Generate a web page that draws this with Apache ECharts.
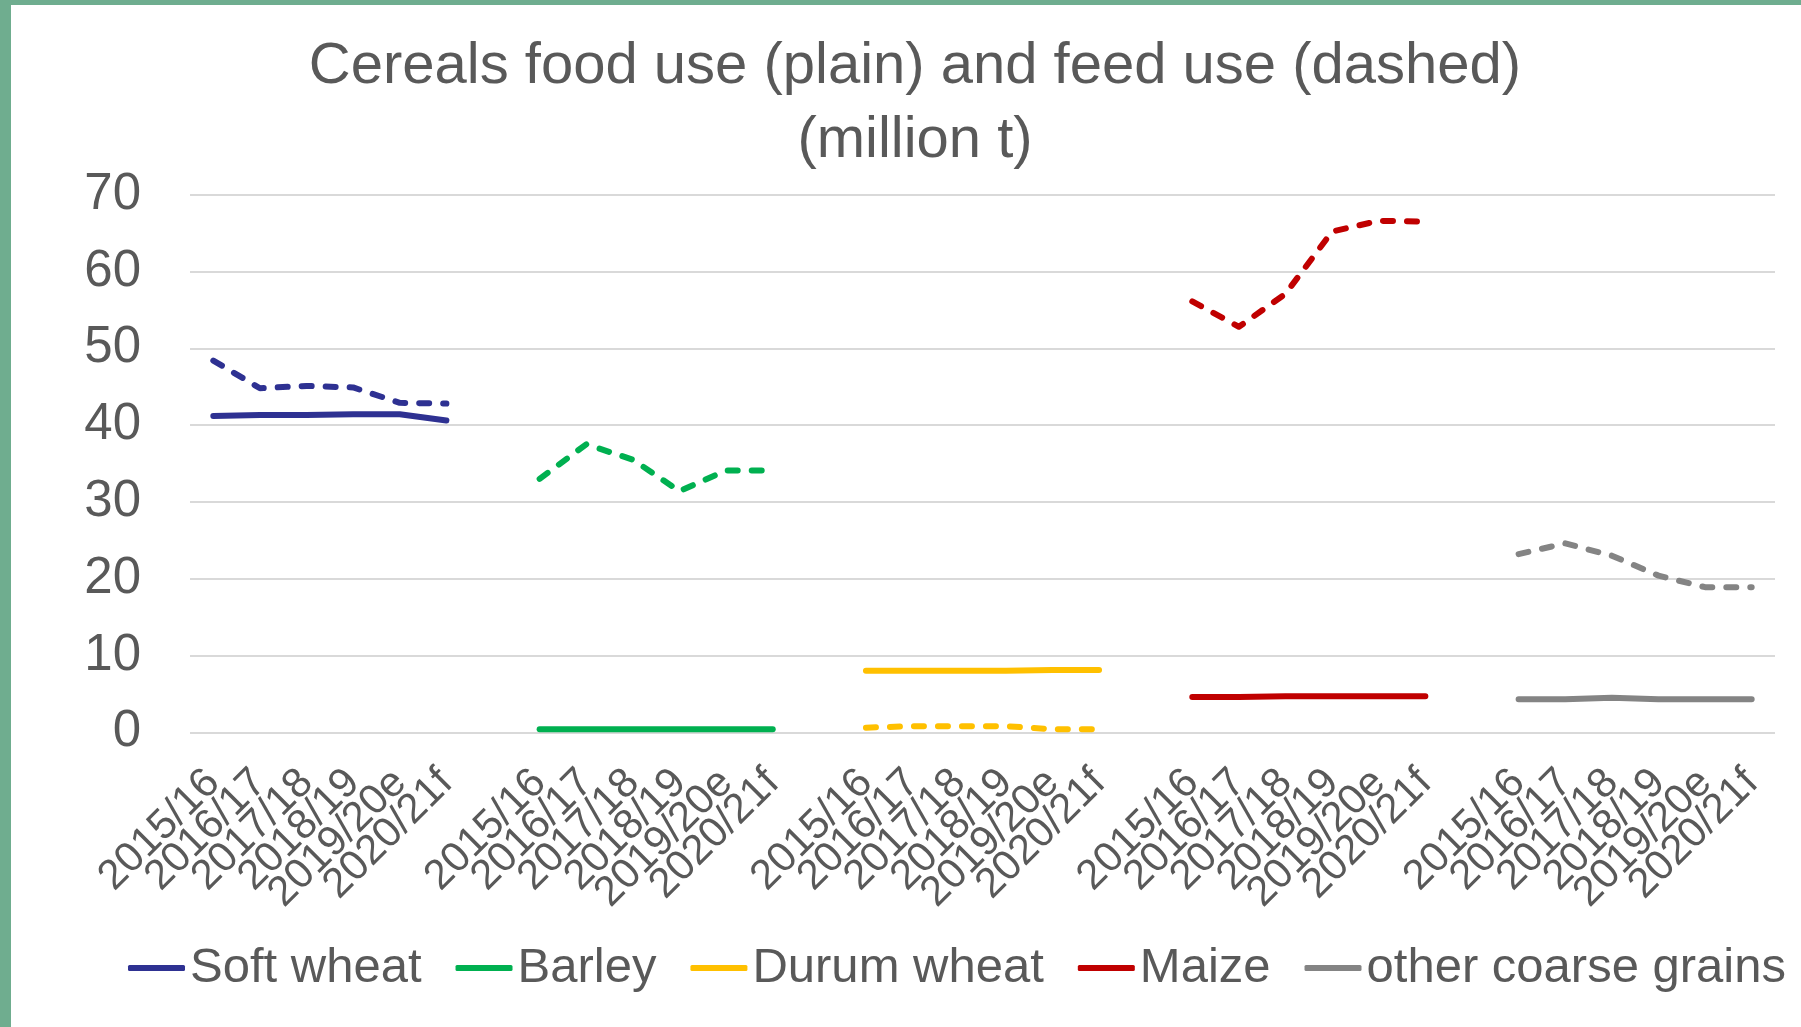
<!DOCTYPE html>
<html>
<head>
<meta charset="utf-8">
<title>Cereals food use and feed use</title>
<script src="https://cdn.jsdelivr.net/npm/echarts@6/dist/echarts.min.js"></script>
<style>
  html, body { margin: 0; padding: 0; background: #fff; }
  #chart { position: absolute; left: 0; top: 0; width: 1801px; height: 1027px; }
  .band { position: absolute; background: #6fad8f; }
</style>
</head>
<body>
<div id="chart"></div>
<div class="band" style="left:0;top:0;width:11px;height:1027px"></div>
<div class="band" style="left:0;top:0;width:1801px;height:5px"></div>
<script>
// Marketing years shown under each cereal group
const seasons = ['2015/16', '2016/17', '2017/18', '2018/19', '2019/20e', '2020/21f'];

// Cereal groups, in drawing order
const crops = ['Soft wheat', 'Barley', 'Durum wheat', 'Maize', 'other coarse grains'];

// Food use (million t), solid lines
const softWheatFood = [41.2, 41.3, 41.3, 41.4, 41.4, 40.6];
const barleyFood    = [0.4, 0.4, 0.4, 0.4, 0.4, 0.4];
const durumFood     = [8.0, 8.0, 8.0, 8.0, 8.1, 8.1];
const maizeFood     = [4.6, 4.6, 4.7, 4.7, 4.7, 4.7];
const otherFood     = [4.3, 4.3, 4.5, 4.3, 4.3, 4.3];

// Feed use (million t), dashed lines
const softWheatFeed = [48.4, 44.8, 45.1, 44.9, 42.9, 42.8];
const barleyFeed    = [33.0, 37.5, 35.5, 31.4, 34.1, 34.1];
const durumFeed     = [0.6, 0.8, 0.8, 0.8, 0.4, 0.4];
const maizeFeed     = [56.1, 52.8, 57.1, 65.2, 66.6, 66.5];
const otherFeed     = [23.2, 24.6, 23.0, 20.4, 18.9, 18.9];

// Y axis ticks
const yTicks = [0, 10, 20, 30, 40, 50, 60, 70];

const foodSets = [softWheatFood, barleyFood, durumFood, maizeFood, otherFood];
const feedSets = [softWheatFeed, barleyFeed, durumFeed, maizeFeed, otherFeed];
const colors = ['#2e3192', '#00b050', '#ffc000', '#c00000', '#848484'];

// One category slot per season, with an empty slot between groups
const step = seasons.length + 1;
const categories = [];
crops.forEach((c, g) => {
  seasons.forEach(s => categories.push(s));
  if (g < crops.length - 1) categories.push('');
});

function placeGroup(values, g) {
  const arr = categories.map(() => null);
  values.forEach((v, i) => { arr[g * step + i] = v; });
  return arr;
}

const textColor = '#595959';
const font = '"Liberation Sans", Arial, sans-serif';

const series = [];
crops.forEach((name, g) => {
  series.push({
    name: name,
    type: 'line',
    data: placeGroup(foodSets[g], g),
    symbol: 'none',
    connectNulls: false,
    lineStyle: { color: colors[g], width: 6, cap: 'round', join: 'round' },
    itemStyle: { color: colors[g] },
    z: 3
  });
});
crops.forEach((name, g) => {
  series.push({
    name: name + ' feed',
    type: 'line',
    data: placeGroup(feedSets[g], g),
    symbol: 'none',
    connectNulls: false,
    lineStyle: { color: colors[g], width: 6, type: [10, 14], cap: 'round', join: 'round' },
    itemStyle: { color: colors[g] },
    z: 3
  });
});

const chart = echarts.init(document.getElementById('chart'), null, { renderer: 'canvas' });
chart.setOption({
  animation: false,
  backgroundColor: '#ffffff',
  title: {
    text: 'Cereals food use (plain) and feed use (dashed)\n(million t)',
    left: 915,
    top: 30,
    padding: 0,
    textAlign: 'center',
    textStyle: {
      color: textColor,
      fontFamily: font,
      fontSize: 58,
      fontWeight: 'normal',
      lineHeight: 74
    }
  },
  legend: {
    data: crops,
    left: 128,
    top: 943,
    width: 1700,
    padding: 0,
    itemWidth: 57,
    itemHeight: 6,
    itemGap: 34,
    icon: 'roundRect',
    textStyle: { color: textColor, fontFamily: font, fontSize: 49, lineHeight: 50 }
  },
  grid: { left: 190, right: 26, top: 194.7, bottom: 294.7, containLabel: false },
  xAxis: {
    type: 'category',
    data: categories,
    boundaryGap: true,
    axisLine: { show: false },
    axisTick: { show: false },
    axisLabel: {
      interval: 0,
      rotate: 45,
      margin: 44,
      color: textColor,
      fontFamily: font,
      fontSize: 42
    },
    splitLine: { show: false }
  },
  yAxis: {
    type: 'value',
    min: yTicks[0],
    max: yTicks[yTicks.length - 1],
    interval: yTicks[1] - yTicks[0],
    axisLine: { show: false },
    axisTick: { show: false },
    axisLabel: {
      margin: 49,
      color: textColor,
      fontFamily: font,
      fontSize: 51
    },
    splitLine: { lineStyle: { color: '#d9d9d9', width: 2 } }
  },
  series: series
});
</script>
</body>
</html>
